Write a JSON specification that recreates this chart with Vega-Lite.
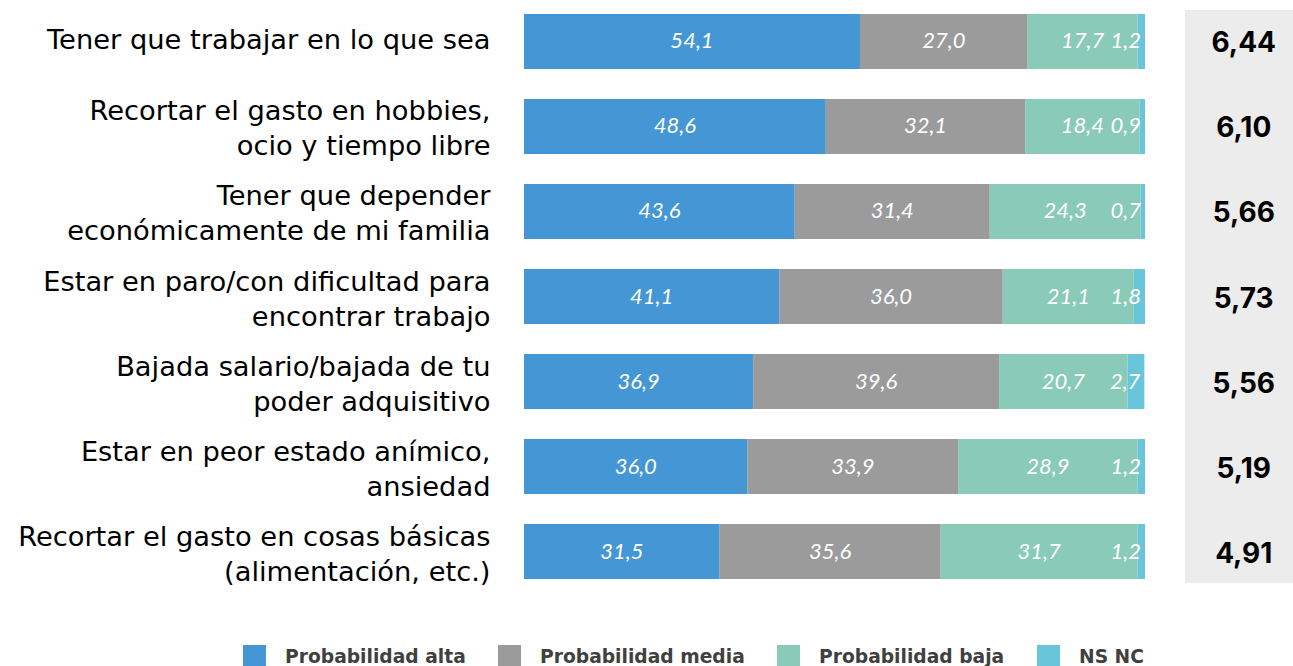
{
  "$schema": "https://vega.github.io/schema/vega-lite/v6.json",
  "width": 769,
  "height": 573,
  "autosize": "none",
  "padding": {"left": 524, "top": 10, "right": 0, "bottom": 83},
  "config": {
    "view": {"stroke": null},
    "font": "Inter",
    "locale": {"number": {"decimal": ",", "thousands": ".", "grouping": [3], "currency": ["", " €"]}}
  },
  "datasets": {
    "bars": [
      {"item": "Tener que trabajar en lo que sea", "cat": "Probabilidad alta", "ord": 1, "value": 54.1},
      {"item": "Tener que trabajar en lo que sea", "cat": "Probabilidad media", "ord": 2, "value": 27.0},
      {"item": "Tener que trabajar en lo que sea", "cat": "Probabilidad baja", "ord": 3, "value": 17.7},
      {"item": "Tener que trabajar en lo que sea", "cat": "NS NC", "ord": 4, "value": 1.2},
      {"item": "Recortar el gasto en hobbies,|ocio y tiempo libre", "cat": "Probabilidad alta", "ord": 1, "value": 48.6},
      {"item": "Recortar el gasto en hobbies,|ocio y tiempo libre", "cat": "Probabilidad media", "ord": 2, "value": 32.1},
      {"item": "Recortar el gasto en hobbies,|ocio y tiempo libre", "cat": "Probabilidad baja", "ord": 3, "value": 18.4},
      {"item": "Recortar el gasto en hobbies,|ocio y tiempo libre", "cat": "NS NC", "ord": 4, "value": 0.9},
      {"item": "Tener que depender |económicamente de mi familia", "cat": "Probabilidad alta", "ord": 1, "value": 43.6},
      {"item": "Tener que depender |económicamente de mi familia", "cat": "Probabilidad media", "ord": 2, "value": 31.4},
      {"item": "Tener que depender |económicamente de mi familia", "cat": "Probabilidad baja", "ord": 3, "value": 24.3},
      {"item": "Tener que depender |económicamente de mi familia", "cat": "NS NC", "ord": 4, "value": 0.7},
      {"item": "Estar en paro/con dificultad para|encontrar trabajo", "cat": "Probabilidad alta", "ord": 1, "value": 41.1},
      {"item": "Estar en paro/con dificultad para|encontrar trabajo", "cat": "Probabilidad media", "ord": 2, "value": 36.0},
      {"item": "Estar en paro/con dificultad para|encontrar trabajo", "cat": "Probabilidad baja", "ord": 3, "value": 21.1},
      {"item": "Estar en paro/con dificultad para|encontrar trabajo", "cat": "NS NC", "ord": 4, "value": 1.8},
      {"item": "Bajada salario/bajada de tu|poder adquisitivo", "cat": "Probabilidad alta", "ord": 1, "value": 36.9},
      {"item": "Bajada salario/bajada de tu|poder adquisitivo", "cat": "Probabilidad media", "ord": 2, "value": 39.6},
      {"item": "Bajada salario/bajada de tu|poder adquisitivo", "cat": "Probabilidad baja", "ord": 3, "value": 20.7},
      {"item": "Bajada salario/bajada de tu|poder adquisitivo", "cat": "NS NC", "ord": 4, "value": 2.7},
      {"item": "Estar en peor estado anímico,|ansiedad", "cat": "Probabilidad alta", "ord": 1, "value": 36.0},
      {"item": "Estar en peor estado anímico,|ansiedad", "cat": "Probabilidad media", "ord": 2, "value": 33.9},
      {"item": "Estar en peor estado anímico,|ansiedad", "cat": "Probabilidad baja", "ord": 3, "value": 28.9},
      {"item": "Estar en peor estado anímico,|ansiedad", "cat": "NS NC", "ord": 4, "value": 1.2},
      {"item": "Recortar el gasto en cosas básicas|(alimentación, etc.)", "cat": "Probabilidad alta", "ord": 1, "value": 31.5},
      {"item": "Recortar el gasto en cosas básicas|(alimentación, etc.)", "cat": "Probabilidad media", "ord": 2, "value": 35.6},
      {"item": "Recortar el gasto en cosas básicas|(alimentación, etc.)", "cat": "Probabilidad baja", "ord": 3, "value": 31.7},
      {"item": "Recortar el gasto en cosas básicas|(alimentación, etc.)", "cat": "NS NC", "ord": 4, "value": 1.2}
    ],
    "scores": [
      {"item": "Tener que trabajar en lo que sea", "score": 6.44},
      {"item": "Recortar el gasto en hobbies,|ocio y tiempo libre", "score": 6.10},
      {"item": "Tener que depender |económicamente de mi familia", "score": 5.66},
      {"item": "Estar en paro/con dificultad para|encontrar trabajo", "score": 5.73},
      {"item": "Bajada salario/bajada de tu|poder adquisitivo", "score": 5.56},
      {"item": "Estar en peor estado anímico,|ansiedad", "score": 5.19},
      {"item": "Recortar el gasto en cosas básicas|(alimentación, etc.)", "score": 4.91}
    ]
  },
  "layer": [
    {
      "data": {"name": "scores"},
      "mark": {"type": "rect", "color": "#ECECEC"},
      "encoding": {
        "x": {"datum": 106.44, "type": "quantitative", "scale": {"domain": [0, 123.83], "nice": false, "zero": true}, "axis": null},
        "x2": {"datum": 123.83}
      }
    },
    {
      "data": {"name": "bars"},
      "transform": [
        {"stack": "value", "groupby": ["item"], "sort": [{"field": "ord"}], "as": ["x0", "x1"]},
        {"calculate": "(datum.x0 + datum.x1) / 2", "as": "mid"}
      ],
      "layer": [
        {
          "mark": {"type": "bar"},
          "encoding": {
            "y": {
              "field": "item", "type": "nominal", "sort": null, "title": null,
              "scale": {"paddingInner": 0.3529, "paddingOuter": 0.047},
              "axis": {
                "domain": false, "ticks": false, "labelPadding": 34, "labelLimit": 0,
                "labelFont": "DejaVu Sans", "labelFontSize": 27.3, "labelColor": "#000000", "labelLineHeight": 35,
                "labelOffset": {"condition": {"test": "indexof(datum.value, '|') >= 0", "value": -14}, "value": 0},
                "labelExpr": "split(datum.label, '|')"
              }
            },
            "x": {"field": "x0", "type": "quantitative"},
            "x2": {"field": "x1"},
            "color": {
              "field": "cat", "type": "nominal",
              "scale": {
                "domain": ["Probabilidad alta", "Probabilidad media", "Probabilidad baja", "NS NC"],
                "range": ["#4497D4", "#9B9B9B", "#8ACAB8", "#69C6DA"]
              },
              "legend": {
                "title": null, "orient": "none", "direction": "horizontal",
                "legendX": -281, "legendY": 635,
                "symbolType": "square", "symbolSize": 529, "symbolStrokeWidth": 0, "symbolOpacity": 1,
                "labelFont": "DejaVu Sans", "labelFontSize": 18.7, "labelFontWeight": "bold", "labelColor": "#404040",
                "labelOffset": 19, "columnPadding": 32, "labelLimit": 400
              }
            }
          }
        },
        {
          "transform": [{"filter": "datum.cat != 'NS NC'"}],
          "mark": {"type": "text", "color": "#FFFFFF", "font": "Lato", "fontSize": 22, "fontStyle": "italic", "align": "center", "baseline": "middle"},
          "encoding": {
            "y": {"field": "item", "type": "nominal", "sort": null},
            "x": {"field": "mid", "type": "quantitative"},
            "text": {"field": "value", "type": "quantitative", "format": ".1f"}
          }
        },
        {
          "transform": [{"filter": "datum.cat == 'NS NC'"}],
          "mark": {"type": "text", "color": "#FFFFFF", "font": "Lato", "fontSize": 22, "fontStyle": "italic", "align": "right", "baseline": "middle", "dx": -4},
          "encoding": {
            "y": {"field": "item", "type": "nominal", "sort": null},
            "x": {"field": "x1", "type": "quantitative"},
            "text": {"field": "value", "type": "quantitative", "format": ".1f"}
          }
        }
      ]
    },
    {
      "data": {"name": "scores"},
      "mark": {"type": "text", "font": "Inter", "fontSize": 28, "fontWeight": "bold", "color": "#000000", "align": "center", "baseline": "middle", "dy": 3},
      "encoding": {
        "y": {"field": "item", "type": "nominal", "sort": null},
        "x": {"datum": 115.9, "type": "quantitative"},
        "text": {"field": "score", "type": "quantitative", "format": ".2f"}
      }
    }
  ]
}
